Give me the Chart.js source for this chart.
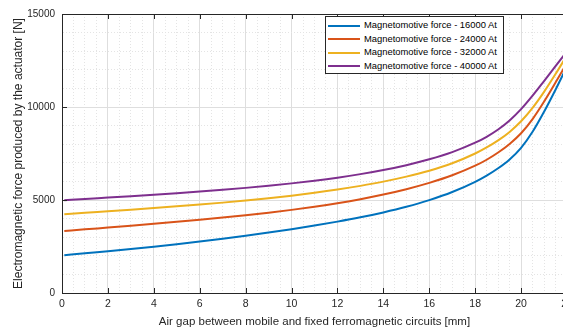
<!DOCTYPE html>
<html>
<head>
<meta charset="utf-8">
<script src="https://cdn.jsdelivr.net/npm/chart.js@4.4.0/dist/chart.umd.min.js"></script>
<style>
  body { margin: 0; overflow: hidden; background: #fff; }
  #wrap { position: relative; width: 580px; height: 329px; }
  #legend {
    position: absolute; left: 325px; top: 16px; width: 177px;
    border: 1px solid #262626; background: #fff; padding: 1px 0;
    font-family: "Liberation Sans", Arial, sans-serif; font-size: 9.4px; color: #000;
  }
  .row { height: 13.5px; line-height: 13.5px; white-space: nowrap; }
  .swatch { display: inline-block; width: 32px; height: 2px; margin: 0 4px 0 2px; vertical-align: middle; }
</style>
</head>
<body>
<div id="wrap">
  <canvas id="myChart" width="580" height="329"></canvas>
  <div id="legend"></div>
</div>
<script>
// air gap [mm]
const airGap = [0.1, 1, 2, 3, 4, 5, 6, 7, 8, 9, 10, 11, 12, 13, 14, 15, 16, 17, 18, 18.5, 19, 19.5, 20, 20.5, 21, 21.5, 22];

// force [N] for each magnetomotive force
const force16000 = [2030, 2137, 2247, 2364, 2488, 2621, 2765, 2919, 3080, 3250, 3432, 3627, 3838, 4070, 4333, 4635, 4993, 5428, 5978, 6312, 6704, 7179, 7804, 8666, 9741, 10928, 12178];
const force24000 = [3330, 3422, 3517, 3616, 3719, 3827, 3939, 4058, 4184, 4319, 4469, 4639, 4829, 5044, 5292, 5579, 5919, 6329, 6844, 7164, 7552, 8014, 8589, 9351, 10289, 11314, 12376];
const force32000 = [4240, 4317, 4396, 4479, 4566, 4658, 4755, 4859, 4972, 5096, 5233, 5387, 5561, 5760, 5988, 6256, 6576, 6976, 7501, 7826, 8206, 8661, 9231, 9951, 10813, 11770, 12776];
const force40000 = [4990, 5059, 5131, 5205, 5283, 5366, 5454, 5549, 5652, 5766, 5894, 6038, 6202, 6391, 6611, 6873, 7188, 7575, 8080, 8400, 8790, 9275, 9883, 10608, 11395, 12195, 12995];

const seriesNames = ['Magnetomotive force - 16000 At', 'Magnetomotive force - 24000 At', 'Magnetomotive force - 32000 At', 'Magnetomotive force - 40000 At'];
const seriesColors = ['#0072BD', '#D95319', '#EDB120', '#7E2F8E'];
const seriesValues = [force16000, force24000, force32000, force40000];

const xMajor = 2;
const yMajor = 5000;

function toPoints(values) {
  return values.map(function (v, i) { return { x: airGap[i], y: v }; });
}

const data = {
  datasets: seriesValues.map(function (vals, i) {
    return {
      label: seriesNames[i],
      data: toPoints(vals),
      borderColor: seriesColors[i],
      backgroundColor: seriesColors[i],
      borderWidth: 2,
      pointRadius: 0,
      cubicInterpolationMode: 'monotone',
      fill: false
    };
  })
};

function isMajor(ctx, step) {
  return ctx.tick && Math.abs(ctx.tick.value / step - Math.round(ctx.tick.value / step)) < 1e-6;
}

// box around plot + inward tick marks like matlab
const boxPlugin = {
  id: 'box',
  afterDraw: function (chart) {
    const c = chart.ctx;
    const a = chart.chartArea;
    const xs = chart.scales.x;
    const ys = chart.scales.y;
    c.save();
    c.strokeStyle = '#262626';
    c.lineWidth = 1;
    c.strokeRect(a.left + 0.5, a.top + 0.5, a.right - a.left, a.bottom - a.top);
    c.beginPath();
    xs.ticks.forEach(function (t) {
      if (t.value % xMajor !== 0) return;
      const px = Math.round(xs.getPixelForValue(t.value)) + 0.5;
      c.moveTo(px, a.bottom); c.lineTo(px, a.bottom - 5);
      c.moveTo(px, a.top); c.lineTo(px, a.top + 5);
    });
    ys.ticks.forEach(function (t) {
      if (t.value % yMajor !== 0) return;
      const py = Math.round(ys.getPixelForValue(t.value)) + 0.5;
      c.moveTo(a.left, py); c.lineTo(a.left + 5, py);
    });
    c.stroke();
    c.restore();
  }
};

const config = {
  type: 'line',
  data: data,
  options: {
    responsive: false,
    animation: false,
    layout: { padding: { top: 14, right: 13, left: 0, bottom: 0 } },
    plugins: {
      legend: { display: false },
      tooltip: { enabled: false }
    },
    scales: {
      x: {
        type: 'linear',
        min: 0,
        max: 22,
        afterFit: function (s) { s.height = 36; },
        ticks: {
          stepSize: 0.5,
          autoSkip: false,
          maxRotation: 0,
          padding: 5,
          color: '#262626',
          font: { family: 'Liberation Sans', size: 10.5 },
          callback: function (v) { return v % xMajor === 0 ? String(v) : ''; }
        },
        grid: {
          drawTicks: false,
          color: function (ctx) { return isMajor(ctx, xMajor) ? '#dedede' : '#e4e4e4'; }
        },
        border: {
          color: '#262626',
          dash: function (ctx) { return isMajor(ctx, xMajor) || !ctx.tick ? [] : [1, 2]; }
        },
        title: {
          display: true,
          text: 'Air gap between mobile and fixed ferromagnetic circuits [mm]',
          color: '#262626',
          font: { family: 'Liberation Sans', size: 11.5 },
          padding: { top: 0, bottom: 0 }
        }
      },
      y: {
        min: 0,
        max: 15000,
        afterFit: function (s) { s.width = 62; },
        ticks: {
          stepSize: 1000,
          autoSkip: false,
          padding: 7,
          color: '#262626',
          font: { family: 'Liberation Sans', size: 10 },
          callback: function (v) { return v % yMajor === 0 ? String(v) : ''; }
        },
        grid: {
          drawTicks: false,
          color: function (ctx) { return isMajor(ctx, yMajor) ? '#dedede' : '#e4e4e4'; }
        },
        border: {
          color: '#262626',
          dash: function (ctx) { return isMajor(ctx, yMajor) || !ctx.tick ? [] : [1, 2]; }
        },
        title: {
          display: true,
          text: 'Electromagnetic force produced by the actuator [N]',
          color: '#262626',
          font: { family: 'Liberation Sans', size: 12 },
          padding: { top: 11, bottom: 0 }
        }
      }
    }
  },
  plugins: [boxPlugin]
};

var myChart = new Chart(document.getElementById('myChart'), config);

// legend box inside the plot
var legendEl = document.getElementById('legend');
myChart.data.datasets.forEach(function (ds) {
  var row = document.createElement('div');
  row.className = 'row';
  var sw = document.createElement('span');
  sw.className = 'swatch';
  sw.style.background = ds.borderColor;
  row.appendChild(sw);
  row.appendChild(document.createTextNode(ds.label));
  legendEl.appendChild(row);
});
</script>
</body>
</html>
